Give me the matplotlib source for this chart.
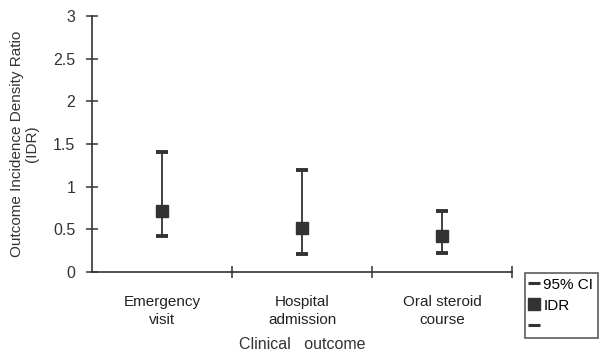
import matplotlib

matplotlib.use("Agg")
import matplotlib.pyplot as plt
from matplotlib.lines import Line2D

plt.rcParams["font.family"] = ["Liberation Sans", "DejaVu Sans"]

outcomes = ["Emergency\nvisit", "Hospital\nadmission", "Oral steroid\ncourse"]
idr = [0.72, 0.51, 0.42]
ci_low = [0.42, 0.21, 0.22]
ci_high = [1.41, 1.20, 0.72]

fig = plt.figure(figsize=(6.06, 3.56), dpi=100)
ax = fig.add_axes([0.152, 0.236, 0.693, 0.719])

xs = [i + 0.5 for i in range(len(outcomes))]
yerr = [[v - lo for v, lo in zip(idr, ci_low)], [hi - v for v, hi in zip(idr, ci_high)]]
ax.errorbar(xs, idr, yerr=yerr, fmt="s", color="#333333", ecolor="#333333",
            markersize=8, elinewidth=1.3, capsize=4.5, capthick=2.8)

ax.set_xlim(0, 3)
ax.set_ylim(0, 3)
ax.set_yticks([0, 0.5, 1, 1.5, 2, 2.5, 3])
ax.set_yticklabels(["0", "0.5", "1", "1.5", "2", "2.5", "3"])
ax.set_xticks([1, 2, 3])
ax.set_xticklabels([])
for x, label in zip(xs, outcomes):
    ax.text(x, -0.27, label, ha="center", va="top", fontsize=11, color="#222222",
            linespacing=1.4)

ax.spines["top"].set_visible(False)
ax.spines["right"].set_visible(False)
for side in ("left", "bottom"):
    ax.spines[side].set_color("#333333")
    ax.spines[side].set_linewidth(1.2)
ax.tick_params(axis="both", direction="inout", length=8, width=1.1, color="#333333",
               labelsize=11.5, labelcolor="#333333")
ax.tick_params(axis="y", pad=8)

ax.set_ylabel("Outcome Incidence Density Ratio\n(IDR)", fontsize=11, color="#333333",
              labelpad=10, linespacing=1.1)
fig.text(0.498, 0.012, "Clinical   outcome", ha="center", va="bottom", fontsize=11.5,
         color="#333333")

handles = [
    Line2D([], [], color="#333333", marker="_", linestyle="none", markersize=8, markeredgewidth=2.2),
    Line2D([], [], color="#333333", marker="s", linestyle="none", markersize=8),
    Line2D([], [], color="#333333", marker="_", linestyle="none", markersize=8, markeredgewidth=2.2),
]
leg = fig.legend(handles, ["95% CI", "IDR", " "], loc="upper left",
                 bbox_to_anchor=(0.866, 0.233), fontsize=11, frameon=True,
                 fancybox=False, edgecolor="#333333", handlelength=0.6,
                 handletextpad=0.3, borderpad=0.3, labelspacing=0.45, borderaxespad=0)
leg.get_frame().set_linewidth(1.2)

fig.savefig("out.png", dpi=100)
